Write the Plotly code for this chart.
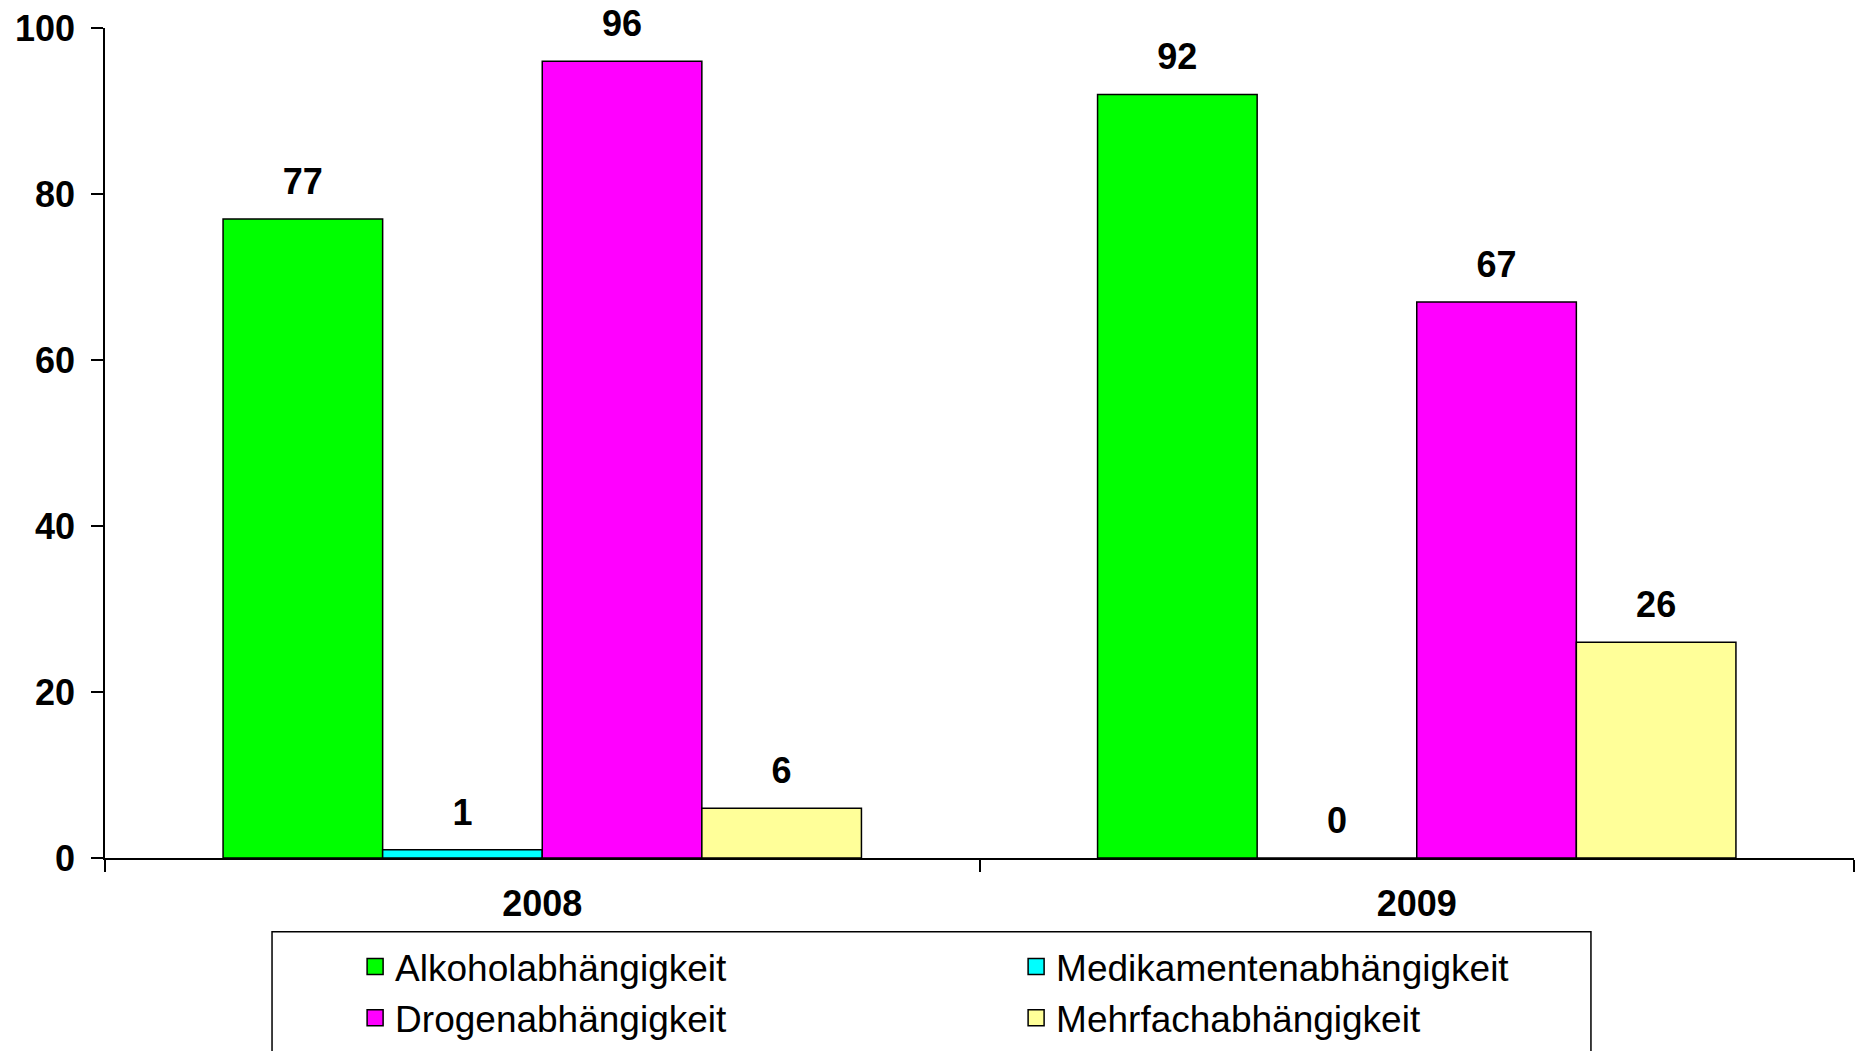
import plotly.graph_objects as go

# Categories and series values
years = ["2008", "2009"]
series_names = [
    "Alkoholabhängigkeit",
    "Medikamentenabhängigkeit",
    "Drogenabhängigkeit",
    "Mehrfachabhängigkeit",
]
alkohol = [77, 92]
medikamente = [1, 0]
drogen = [96, 67]
mehrfach = [6, 26]
y_ticks = [0, 20, 40, 60, 80, 100]

series_values = [alkohol, medikamente, drogen, mehrfach]
colors = ["#00FF00", "#00FFFF", "#FF00FF", "#FFFF99"]

FONT = "Liberation Sans, Arial, sans-serif"
GAP = 0.27

fig = go.Figure()

# Grouped bars, one offset group per series
for name, vals, col in zip(series_names, series_values, colors):
    fig.add_trace(go.Bar(
        x=years, y=vals, name=name, showlegend=False, offsetgroup=name,
        marker=dict(color=col, line=dict(color="black", width=1.5)),
    ))

# Value labels in the same offset groups; the invisible marker
# lifts each label a little above its bar top.
for name, vals in zip(series_names, series_values):
    fig.add_trace(go.Scatter(
        x=years, y=vals, mode="markers+text", offsetgroup=name,
        text=[str(v) for v in vals], textposition="top center",
        textfont=dict(family=FONT, size=36, color="black", weight="bold"),
        marker=dict(size=24, opacity=0),
        showlegend=False, hoverinfo="skip", cliponaxis=False,
    ))

# Legend entries with larger square swatches
for name, col in zip(series_names, colors):
    fig.add_trace(go.Scatter(
        x=years, y=[None, None], mode="markers", name=name, offsetgroup=name,
        marker=dict(symbol="square", size=16, color=col,
                    line=dict(color="black", width=1.5)),
        hoverinfo="skip",
    ))

fig.update_layout(
    width=1856, height=1051,
    margin=dict(l=105, r=2, t=28, b=191),
    paper_bgcolor="white", plot_bgcolor="white",
    barmode="group", bargap=GAP,
    scattermode="group", scattergap=GAP,
    font=dict(family=FONT, color="black"),
    showlegend=True,
    legend=dict(
        orientation="h", x=0.143, y=-0.094, xanchor="left", yanchor="top",
        entrywidth=616, entrywidthmode="pixels",
        font=dict(family=FONT, size=37, color="black"),
        bgcolor="rgba(0,0,0,0)", borderwidth=0,
        traceorder="normal", itemsizing="trace",
    ),
    shapes=[dict(
        type="rect", xref="paper", yref="paper",
        x0=0.0955, x1=0.8496, y0=-0.0889, y1=-0.26,
        line=dict(color="black", width=1.5), fillcolor="rgba(0,0,0,0)",
        layer="below",
    )],
)

fig.update_xaxes(
    type="category", range=[-0.5, 1.5],
    showline=True, linecolor="black", linewidth=1.5,
    ticks="outside", tickson="boundaries", ticklen=12, tickwidth=1.5, tickcolor="black",
    tickfont=dict(family=FONT, size=36, color="black", weight="bold"),
    ticklabelstandoff=13,
    showgrid=False, zeroline=False,
)
fig.update_yaxes(
    range=[0, 100], tickvals=y_ticks,
    showline=True, linecolor="black", linewidth=1.5,
    ticks="outside", ticklen=12, tickwidth=1.5, tickcolor="black",
    tickfont=dict(family=FONT, size=36, color="black", weight="bold"),
    ticklabelstandoff=9,
    showgrid=False, zeroline=False,
)

fig.write_html("out.html")
